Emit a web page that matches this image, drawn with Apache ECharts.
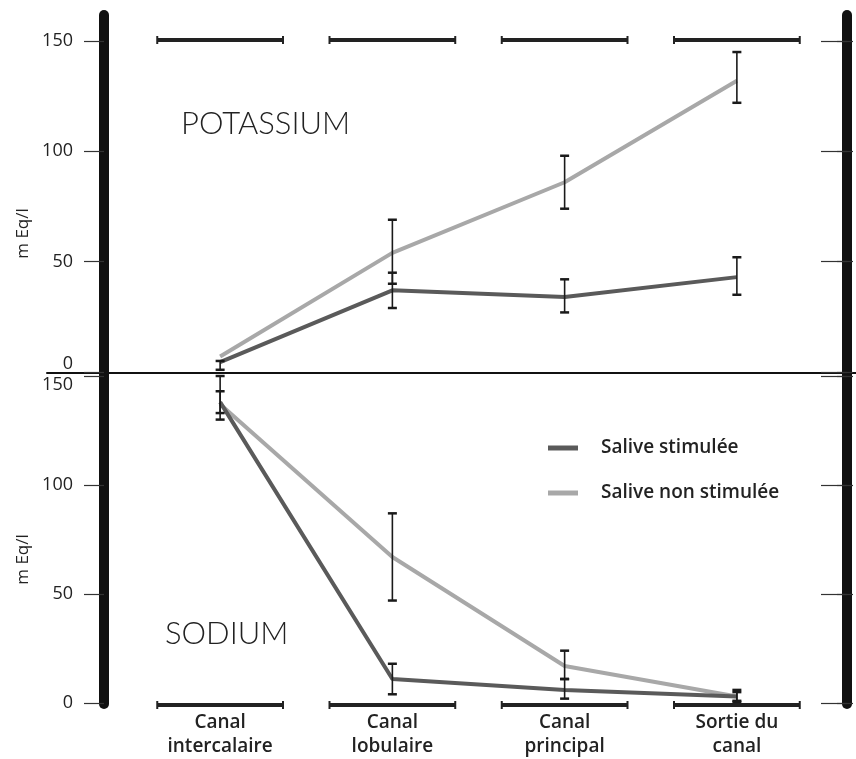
<!DOCTYPE html>
<html>
<head>
<meta charset="utf-8">
<script src="https://cdn.jsdelivr.net/npm/echarts@6/dist/echarts.min.js"></script>
<style>html,body{margin:0;padding:0;background:#fff}#c{width:856px;height:759px}</style>
</head>
<body>
<div id="c"></div>
<script>
// ---- data ----
const categories = ['Canal\nintercalaire', 'Canal\nlobulaire', 'Canal\nprincipal', 'Sortie du\ncanal'];
const seriesNames = ['Salive stimulée', 'Salive non stimulée'];
const yMin = 0, yMax = 150, yStep = 50;

// Potassium (top panel), mEq/l
const kStim = [4.5, 37, 34, 43];
const kStimLow = [1, 29, 27, 35];
const kStimHigh = [5, 45, 42, 52];
const kNon = [7, 54, 86, 132];
const kNonLow = [null, 40, 74, 122];
const kNonHigh = [null, 69, 98, 145];

// Sodium (bottom panel), mEq/l
const naStim = [138, 11, 6, 3];
const naStimLow = [133, 4, 2, 0.5];
const naStimHigh = [143, 18, 11, 6];
const naNon = [137, 67, 17, 3];
const naNonLow = [130, 47, 11, 1];
const naNonHigh = [150, 87, 24, 5];

// ---- helpers ----
const DARK = '#5a5a5a', LIGHT = '#a8a8a8', INK = '#1a1a1a';
const FONT = 'Open Sans';

function errData(lo, hi) {
  const out = [];
  lo.forEach((l, i) => { if (l != null && hi[i] != null) out.push([i, l, hi[i]]); });
  return out;
}
function errRender(params, api) {
  const x = api.value(0), lo = api.value(1), hi = api.value(2);
  const a = api.coord([x, hi]), b = api.coord([x, lo]);
  const w = 4.5;
  return {
    type: 'group', children: [
      {type: 'line', shape: {x1: a[0], y1: a[1], x2: b[0], y2: b[1]}, style: {stroke: INK, lineWidth: 1.6}},
      {type: 'line', shape: {x1: a[0] - w, y1: a[1], x2: a[0] + w, y2: a[1]}, style: {stroke: INK, lineWidth: 2.5}},
      {type: 'line', shape: {x1: b[0] - w, y1: b[1], x2: b[0] + w, y2: b[1]}, style: {stroke: INK, lineWidth: 2.5}}
    ]
  };
}
function segRender(dy) {
  return function (params, api) {
    const c = api.coord([api.value(0), api.value(1)]);
    const half = api.size([1, 0])[0] * 0.365;
    const y = c[1] + dy;
    return {
      type: 'group', children: [
        {type: 'line', shape: {x1: c[0] - half, y1: y, x2: c[0] + half, y2: y}, style: {stroke: '#222', lineWidth: 4}},
        {type: 'line', shape: {x1: c[0] - half, y1: y - 4, x2: c[0] - half, y2: y + 4}, style: {stroke: '#222', lineWidth: 2}},
        {type: 'line', shape: {x1: c[0] + half, y1: y - 4, x2: c[0] + half, y2: y + 4}, style: {stroke: '#222', lineWidth: 2}}
      ]
    };
  };
}
const labelStyle = {fontFamily: FONT, fontSize: 18, color: '#222'};

function leftLabelAxis(grid, name, namePad, specialVal, specialRich) {
  return {
    gridIndex: grid, type: 'value', min: yMin, max: yMax, interval: yStep, offset: 30,
    axisLine: {show: false}, splitLine: {show: false},
    axisTick: {show: true, length: 20, lineStyle: {color: '#333', width: 1.2}},
    axisLabel: {
      margin: 31, ...labelStyle,
      formatter: v => v === specialVal ? '{s|' + v + '}' : String(v),
      rich: {s: Object.assign({}, labelStyle, specialRich)}
    },
    name: name, nameLocation: 'middle', nameGap: 70,
    nameTextStyle: {fontFamily: FONT, fontSize: 17, color: '#222', padding: namePad}
  };
}
function innerTickAxis(grid) {
  return {
    gridIndex: grid, type: 'value', min: yMin, max: yMax, interval: yStep, offset: 30,
    axisLine: {show: false}, splitLine: {show: false}, axisLabel: {show: false},
    axisTick: {show: true, inside: true, length: 16, lineStyle: {color: '#333', width: 1.2}}
  };
}
function rightTickAxis(grid) {
  return {
    gridIndex: grid, type: 'value', position: 'right', min: yMin, max: yMax, interval: yStep, offset: 24,
    axisLine: {show: false}, splitLine: {show: false}, axisLabel: {show: false},
    axisTick: {show: true, inside: true, length: 26, lineStyle: {color: '#333', width: 1.2}}
  };
}

const chart = echarts.init(document.getElementById('c'), null, {renderer: 'canvas'});
const option = {
  backgroundColor: '#fff',
  animation: false,
  title: [
    {text: 'POTASSIUM', left: 176, top: 103, textStyle: {fontFamily: 'Lato', fontWeight: 300, fontSize: 31, color: '#222'}},
    {text: 'SODIUM', left: 160, top: 613, textStyle: {fontFamily: 'Lato', fontWeight: 300, fontSize: 31, color: '#222'}}
  ],
  legend: {
    data: seriesNames, orient: 'vertical', left: 543, top: 431,
    icon: 'rect', itemWidth: 30, itemHeight: 5, itemGap: 21,
    textStyle: {fontFamily: FONT, fontWeight: 600, fontSize: 19, color: '#222', lineHeight: 24, padding: [0, 0, 0, 18]}
  },
  grid: [
    {left: 134, right: 33, top: 41, bottom: 387},   // potassium
    {left: 134, right: 33, top: 376, bottom: 55},   // sodium
    {left: 134, right: 33, top: 15, bottom: 55},    // thick vertical bars
    {left: 47, right: 0, top: 0, bottom: 386}       // divider line
  ],
  xAxis: [
    {gridIndex: 0, type: 'category', data: categories, show: false},
    {gridIndex: 1, type: 'category', data: categories,
      axisLine: {show: false}, axisTick: {show: false},
      axisLabel: {margin: 8, fontFamily: FONT, fontWeight: 600, fontSize: 19, color: '#222', lineHeight: 24, interval: 0}},
    {gridIndex: 2, type: 'category', data: categories, show: false},
    {gridIndex: 3, type: 'value', min: 0, max: 1, axisLine: {show: true, onZero: false, lineStyle: {color: '#111', width: 2}},
      axisTick: {show: false}, axisLabel: {show: false}, splitLine: {show: false}}
  ],
  yAxis: [
    leftLabelAxis(0, 'm Eq/l', [0, 54, 0, 0], 0, {padding: [0, 0, 16, 0]}),
    innerTickAxis(0),
    rightTickAxis(0),
    leftLabelAxis(1, 'm Eq/l', [0, 40, 0, 0], 150, {padding: [18, 0, 0, 0]}),
    innerTickAxis(1),
    rightTickAxis(1),
    {gridIndex: 2, type: 'value', offset: 30, axisLine: {show: true, lineStyle: {color: '#111', width: 10}},
      axisTick: {show: false}, axisLabel: {show: false}, splitLine: {show: false}},
    {gridIndex: 2, type: 'value', position: 'right', offset: 24, axisLine: {show: true, lineStyle: {color: '#111', width: 10}},
      axisTick: {show: false}, axisLabel: {show: false}, splitLine: {show: false}},
    {gridIndex: 3, type: 'value', show: false}
  ],
  series: [
    // category segments
    {type: 'custom', xAxisIndex: 0, yAxisIndex: 0, clip: false, silent: true,
      data: categories.map((c, i) => [i, yMax]), renderItem: segRender(-1), z: 3},
    {type: 'custom', xAxisIndex: 1, yAxisIndex: 3, clip: false, silent: true,
      data: categories.map((c, i) => [i, yMin]), renderItem: segRender(2), z: 3},
    // potassium
    {name: seriesNames[1], type: 'line', xAxisIndex: 0, yAxisIndex: 0, data: kNon, showSymbol: false, symbol: 'none',
      lineStyle: {color: LIGHT, width: 4}, itemStyle: {color: LIGHT}, z: 4},
    {name: seriesNames[0], type: 'line', xAxisIndex: 0, yAxisIndex: 0, data: kStim, showSymbol: false, symbol: 'none',
      lineStyle: {color: DARK, width: 4}, itemStyle: {color: DARK}, z: 5},
    {type: 'custom', xAxisIndex: 0, yAxisIndex: 0, clip: false, silent: true, data: errData(kNonLow, kNonHigh),
      encode: {x: 0, y: [1, 2]}, renderItem: errRender, z: 6},
    {type: 'custom', xAxisIndex: 0, yAxisIndex: 0, clip: false, silent: true, data: errData(kStimLow, kStimHigh),
      encode: {x: 0, y: [1, 2]}, renderItem: errRender, z: 6},
    // sodium
    {name: seriesNames[1], type: 'line', xAxisIndex: 1, yAxisIndex: 3, data: naNon, showSymbol: false, symbol: 'none',
      lineStyle: {color: LIGHT, width: 4}, itemStyle: {color: LIGHT}, z: 4},
    {name: seriesNames[0], type: 'line', xAxisIndex: 1, yAxisIndex: 3, data: naStim, showSymbol: false, symbol: 'none',
      lineStyle: {color: DARK, width: 4}, itemStyle: {color: DARK}, z: 5},
    {type: 'custom', xAxisIndex: 1, yAxisIndex: 3, clip: false, silent: true, data: errData(naNonLow, naNonHigh),
      encode: {x: 0, y: [1, 2]}, renderItem: errRender, z: 6},
    {type: 'custom', xAxisIndex: 1, yAxisIndex: 3, clip: false, silent: true, data: errData(naStimLow, naStimHigh),
      encode: {x: 0, y: [1, 2]}, renderItem: errRender, z: 6}
  ]
};
chart.setOption(option);
</script>
</body>
</html>
